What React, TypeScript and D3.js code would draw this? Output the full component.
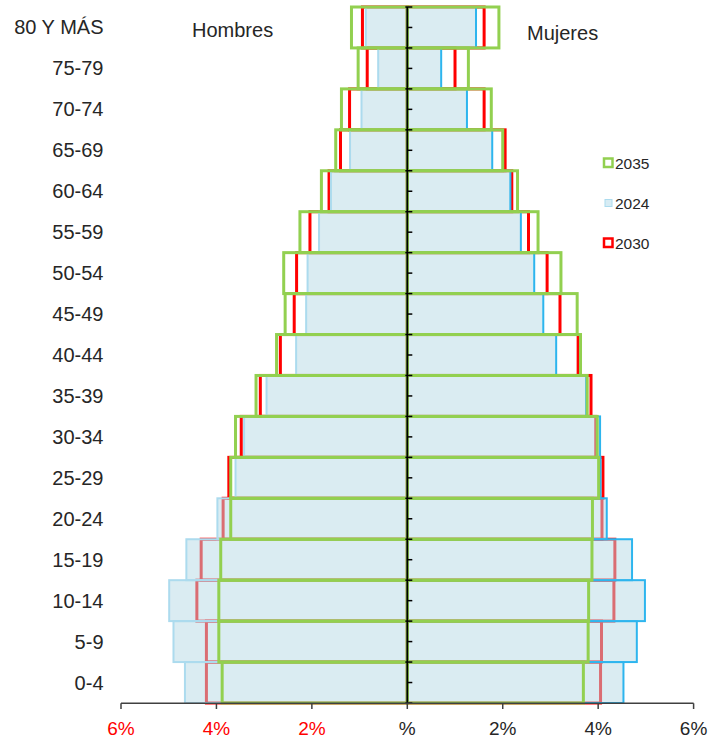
import React from "react";
import * as d3 from "d3";

// Age groups, bottom to top
const categories = ["0-4","5-9","10-14","15-19","20-24","25-29","30-34","35-39","40-44","45-49","50-54","55-59","60-64","65-69","70-74","75-79","80 Y MÁS"];

// Percent of population (men on left, women on right)
const men2024 = [4.66,4.90,4.99,4.63,3.98,3.60,3.42,2.95,2.33,2.12,2.09,1.85,1.60,1.20,0.96,0.61,0.87];
const men2030 = [4.21,4.21,4.41,4.32,3.86,3.74,3.48,3.08,2.66,2.37,2.32,2.04,1.64,1.40,1.21,0.84,0.94];
const men2035 = [3.88,3.95,3.95,3.91,3.70,3.70,3.60,3.17,2.74,2.56,2.59,2.25,1.80,1.50,1.38,1.03,1.17];
const women2024 = [4.53,4.81,4.98,4.71,4.18,4.05,4.04,3.75,3.12,2.85,2.66,2.38,2.16,1.78,1.25,0.71,1.44];
const women2030 = [4.05,4.07,4.33,4.35,4.08,4.10,3.95,3.85,3.58,3.20,2.93,2.54,2.19,2.05,1.61,1.00,1.61];
const women2035 = [3.69,3.79,3.80,3.87,3.88,4.01,3.98,3.77,3.63,3.56,3.22,2.74,2.31,2.00,1.76,1.28,1.92];

const xTicks = [-6,-4,-2,0,2,4,6];
const xTickLabels = ["6%","4%","2%","%","2%","4%","6%"];
const legendItems = ["2035","2024","2030"];

const FONT = "'Liberation Sans', Arial, Helvetica, sans-serif";
const GREEN = "#92d050";
const RED = "#ff0000";
const BLUE_FILL = "rgb(181,217,230)";
const BLUE_R = "#2db5ee";
const BLUE_L = "#acdbee";

export default function App() {
  const W = 709, H = 738;
  const x = d3.scaleLinear().domain([-6, 6]).range([121, 693.6]);
  const y = d3.scaleBand<string>().domain([...categories].reverse()).range([7, 703]).padding(0);
  const bw = y.bandwidth();
  const x0 = x(0);

  const left = (vals: number[], key: string, props: any) =>
    categories.map((c, i) => (
      <rect key={key + i} x={x(-vals[i])} y={y(c)} width={x0 - x(-vals[i])} height={bw} {...props} />
    ));
  const right = (vals: number[], key: string, props: any) =>
    categories.map((c, i) => (
      <rect key={key + i} x={x0} y={y(c)} width={x(vals[i]) - x0} height={bw} {...props} />
    ));

  const midTicks: number[] = [];
  categories.forEach((c) => {
    midTicks.push((y(c) as number));
    midTicks.push((y(c) as number) + bw / 2);
  });
  midTicks.push(703);

  return (
    <svg width={W} height={H} style={{ position: "absolute", left: 0, top: 0, background: "#fff" }} fontFamily={FONT}>
      <rect x={0} y={0} width={W} height={H} fill="#fff" />
      {/* 2030: red outline, bottom layer */}
      {left(men2030, "m30", { fill: "none", stroke: RED, strokeWidth: 3 })}
      {right(women2030, "w30", { fill: "none", stroke: RED, strokeWidth: 3 })}
      {/* 2024: translucent light blue */}
      {left(men2024, "m24", { fill: BLUE_FILL, fillOpacity: 0.5, stroke: BLUE_L, strokeWidth: 2 })}
      {right(women2024, "w24", { fill: BLUE_FILL, fillOpacity: 0.5, stroke: BLUE_R, strokeWidth: 2 })}
      {/* 2035: green outline on top */}
      {left(men2035, "m35", { fill: "none", stroke: GREEN, strokeWidth: 3 })}
      {right(women2035, "w35", { fill: "none", stroke: GREEN, strokeWidth: 3 })}

      {/* center axis */}
      <line x1={x0} x2={x0} y1={7} y2={703} stroke="#000" strokeWidth={1.8} />
      {midTicks.map((t, i) => (
        <line key={"ct" + i} x1={i % 2 === 0 ? x0 - 2 : x0} x2={x0 + 5} y1={t} y2={t} stroke="#000" strokeWidth={1.5} />
      ))}

      {/* bottom axis */}
      <line x1={x(-6)} x2={x(6)} y1={703.3} y2={703.3} stroke="#404040" strokeWidth={1.5} />
      {xTicks.map((t, i) => (
        <g key={"xt" + i}>
          <line x1={x(t)} x2={x(t)} y1={703.3} y2={709} stroke="#404040" strokeWidth={1.5} />
          <text x={x(t)} y={735} textAnchor="middle" fontSize={19} fill={t < 0 ? "#ff0000" : "#262626"}>
            {xTickLabels[i]}
          </text>
        </g>
      ))}

      {/* category labels */}
      {categories.map((c) => (
        <text key={"cl" + c} x={103.5} y={(y(c) as number) + bw / 2 + 7} textAnchor="end" fontSize={20} fill="#262626">
          {c}
        </text>
      ))}

      <text x={192} y={37} fontSize={20} fill="#262626">Hombres</text>
      <text x={527} y={40} fontSize={20} fill="#262626">Mujeres</text>

      {/* legend */}
      {legendItems.map((s, i) => {
        const cy = 163 + i * 40;
        return (
          <g key={"lg" + s}>
            {s === "2035" && <rect x={604} y={cy - 4.5} width={8.5} height={8.5} fill="#fff" stroke={GREEN} strokeWidth={2.5} />}
            {s === "2024" && <rect x={605} y={cy - 3.5} width={7} height={7} fill="#d7ecf4" stroke={BLUE_L} strokeWidth={1} />}
            {s === "2030" && <rect x={604} y={cy - 4.5} width={8.5} height={8.5} fill="#fff" stroke={RED} strokeWidth={2.5} />}
            <text x={615} y={cy + 5.5} fontSize={15.5} fill="#262626">{s}</text>
          </g>
        );
      })}
    </svg>
  );
}
